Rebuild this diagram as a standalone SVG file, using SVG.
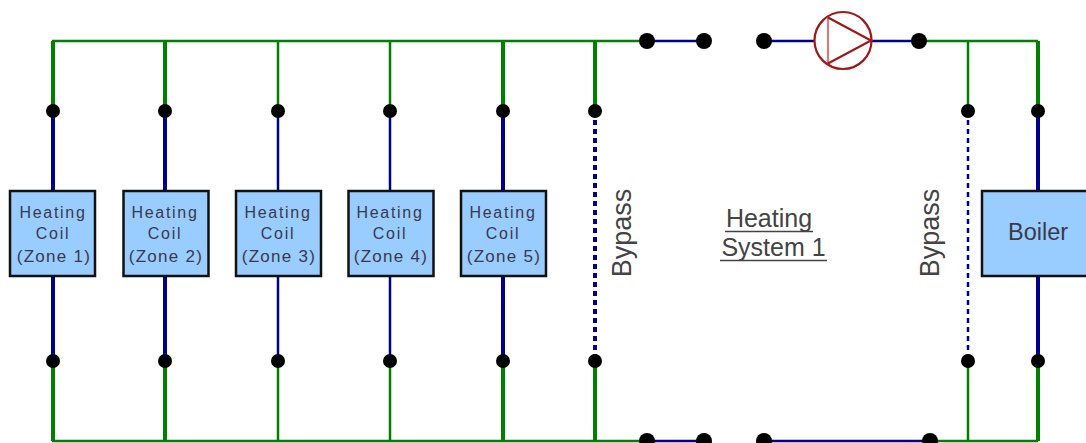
<svg xmlns="http://www.w3.org/2000/svg" width="1086" height="443" viewBox="0 0 1086 443">
<style>
.g{stroke:#008000;fill:none}
.b{stroke:#000090;fill:none}
.d{stroke-dasharray:5 4}
.w2{stroke-width:2.5}
.w3{stroke-width:4}
.dot{fill:#000}
.box{fill:#99ccff;stroke:#111;stroke-width:2.5}
text{font-family:"Liberation Sans",Arial,sans-serif;fill:#3a3a4a;text-anchor:middle}
.c{font-size:16px;letter-spacing:1.7px}
.z{font-size:17px;letter-spacing:1.3px}
.l{font-size:25px;fill:#444}
.v{font-size:27px;fill:#444}
</style>
<rect width="1086" height="443" fill="#fff"/>
<g id="connectors">
<path class="g w2" d="M52 41H647M919 41H1038M52 441H647M930 441H1038"/>
<path class="g w3" d="M53 41V111M53 361V441M165 41V111M165 361V441M503 41V111M503 361V441M595 41V111M595 361V441M1038 41V111M1038 361V441"/>
<path class="g w2" d="M278 41V111M278 361V441M390 41V111M390 361V441M968 41V111M968 361V441"/>
<path class="b w3" d="M53 111V190M53 277V361M165 111V190M165 277V361M503 111V190M503 277V361M1038 111V190M1038 277V361"/>
<path class="b w2" d="M278 111V190M278 277V361M390 111V190M390 277V361M647 41H704M764 41H815M872 41H919M647 441H704M764 441H930"/>
<path class="b w3 d" d="M595 111V361"/>
<path class="b w2 d" d="M968 111V361"/>
</g>
<g id="junctions">
<circle class="dot" cx="647" cy="41" r="8"/><circle class="dot" cx="704" cy="41" r="8"/><circle class="dot" cx="764" cy="41" r="8"/><circle class="dot" cx="919" cy="41" r="8"/>
<circle class="dot" cx="647" cy="441" r="8"/><circle class="dot" cx="704" cy="441" r="8"/><circle class="dot" cx="764" cy="441" r="8"/><circle class="dot" cx="930" cy="441" r="8"/>
<circle class="dot" cx="53" cy="111" r="7"/><circle class="dot" cx="165" cy="111" r="7"/><circle class="dot" cx="278" cy="111" r="7"/><circle class="dot" cx="390" cy="111" r="7"/><circle class="dot" cx="503" cy="111" r="7"/><circle class="dot" cx="595" cy="111" r="7"/><circle class="dot" cx="968" cy="111" r="7"/><circle class="dot" cx="1038" cy="111" r="7"/>
<circle class="dot" cx="53" cy="361" r="7"/><circle class="dot" cx="165" cy="361" r="7"/><circle class="dot" cx="278" cy="361" r="7"/><circle class="dot" cx="390" cy="361" r="7"/><circle class="dot" cx="503" cy="361" r="7"/><circle class="dot" cx="595" cy="361" r="7"/><circle class="dot" cx="968" cy="361" r="7"/><circle class="dot" cx="1038" cy="361" r="7"/>
</g>
<g id="coil1"><rect class="box" x="10" y="191" width="85" height="85"/><text class="c" x="53" y="218">Heating</text><text class="c" x="53" y="239">Coil</text><text class="z" x="54" y="262">(Zone 1)</text></g>
<g id="coil2"><rect class="box" x="123.500" y="191" width="85" height="85"/><text class="c" x="165" y="218">Heating</text><text class="c" x="165" y="239">Coil</text><text class="z" x="166" y="262">(Zone 2)</text></g>
<g id="coil3"><rect class="box" x="236" y="191" width="85" height="85"/><text class="c" x="278" y="218">Heating</text><text class="c" x="278" y="239">Coil</text><text class="z" x="279" y="262">(Zone 3)</text></g>
<g id="coil4"><rect class="box" x="348.500" y="191" width="85" height="85"/><text class="c" x="390" y="218">Heating</text><text class="c" x="390" y="239">Coil</text><text class="z" x="391" y="262">(Zone 4)</text></g>
<g id="coil5"><rect class="box" x="461" y="191" width="85" height="85"/><text class="c" x="503" y="218">Heating</text><text class="c" x="503" y="239">Coil</text><text class="z" x="504" y="262">(Zone 5)</text></g>
<g id="boiler"><rect class="box" x="982" y="191" width="110" height="85"/><text x="1038" y="240" style="font-size:23.500px">Boiler</text></g>
<g id="pump" fill="none" stroke="#a01818" stroke-width="2.200"><circle cx="843" cy="40.500" r="28.500"/><path d="M828 17.500L871 40.500L828 63.500"/><path d="M828 17.500V63.500" stroke-opacity=".55"/></g>
<g id="bypass1"><text class="v" transform="translate(631 233) rotate(-90)">Bypass</text></g>
<g id="bypass2"><text class="v" transform="translate(939 233) rotate(-90)">Bypass</text></g>
<g id="title"><text class="l" x="769" y="227">Heating</text><text class="l" x="773.500" y="256">System 1</text><path d="M725 231.500H813M720 260.500H827" stroke="#444" stroke-width="1.500" fill="none"/></g>
</svg>
